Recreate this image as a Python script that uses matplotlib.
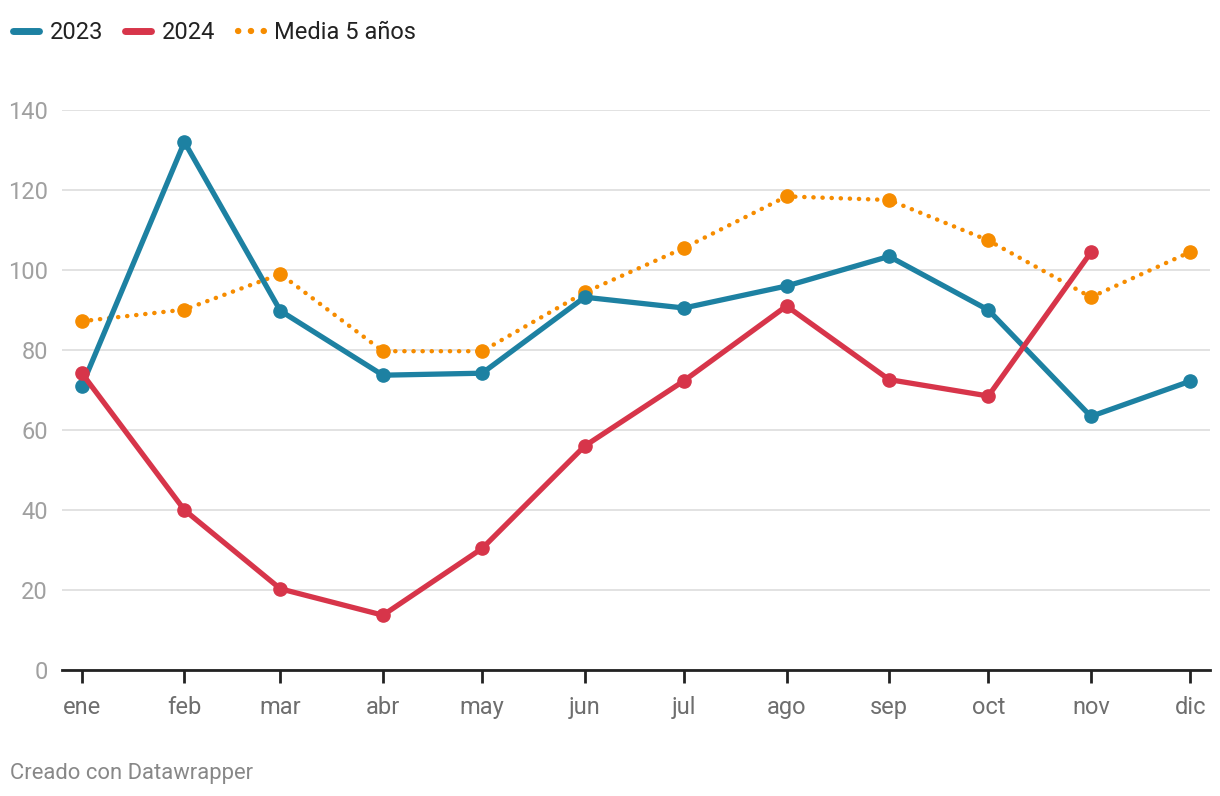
import matplotlib.pyplot as plt
from matplotlib.lines import Line2D

plt.rcParams['font.family'] = ['Roboto', 'DejaVu Sans']

meses = ['ene', 'feb', 'mar', 'abr', 'may', 'jun', 'jul', 'ago', 'sep', 'oct', 'nov', 'dic']
# day of year (leap year) of the first of each month
dia = [0, 31, 60, 91, 121, 152, 182, 213, 244, 274, 305, 335]

v2023 = [71, 132, 89.8, 73.7, 74.2, 93.2, 90.5, 96, 103.4, 90, 63.4, 72.2]
v2024 = [74.2, 40, 20.3, 13.7, 30.4, 56, 72.3, 91, 72.6, 68.5, 104.4]
media = [87.2, 90.1, 99, 79.7, 79.7, 94.4, 105.5, 118.4, 117.5, 107.4, 93.2, 104.5]

c23 = '#1d81a2'
c24 = '#d7354a'
cmed = '#f68c00'

fig = plt.figure(figsize=(12.2, 7.96), dpi=100)
ax = fig.add_axes([62 / 1220, 1 - 670 / 796, 1148 / 1220, 560 / 796])

ax.plot(dia, media, color=cmed, lw=3.2, linestyle=(0, (0.05, 2.0)),
        dash_capstyle='round', marker='o', markersize=9.5, clip_on=False, zorder=3)
ax.plot(dia, v2023, color=c23, lw=3.8, marker='o', markersize=9.5,
        solid_joinstyle='round', clip_on=False, zorder=4)
ax.plot(dia[:len(v2024)], v2024, color=c24, lw=3.8, marker='o', markersize=9.5,
        solid_joinstyle='round', clip_on=False, zorder=5)

ax.set_xlim(-6, 341)
ax.set_ylim(0, 140)
ax.set_yticks(range(0, 141, 20))
ax.set_xticks(dia)
ax.set_xticklabels(meses)
ax.grid(axis='y', color='#e2e2e2', lw=1.4)
ax.set_axisbelow(True)
for s in ['top', 'right', 'left']:
    ax.spines[s].set_visible(False)
ax.spines['bottom'].set_linewidth(2)
ax.spines['bottom'].set_color('#222222')
ax.spines['bottom'].set_zorder(6)
ax.tick_params(axis='y', length=0, pad=10, labelsize=17, labelcolor='#a0a0a0')
ax.tick_params(axis='x', length=9, width=2, color='#222222', pad=10,
               labelsize=17, labelcolor='#6e6e6e')

handles = [
    Line2D([], [], color=c23, lw=5, solid_capstyle='round'),
    Line2D([], [], color=c24, lw=5, solid_capstyle='round'),
    Line2D([], [], color=cmed, lw=4.5, linestyle=(0, (0.05, 2.0)), dash_capstyle='round'),
]
fig.legend(handles, ['2023', '2024', 'Media 5 años'], loc='upper left',
           bbox_to_anchor=(13 / 1220, 1 - 21 / 796), ncol=3, frameon=False, fontsize=17,
           handlelength=1.1, handletextpad=0.45, columnspacing=0.95,
           labelcolor='#222222', borderaxespad=0, borderpad=0)

fig.text(10 / 1220, 1 - 774 / 796, 'Creado con Datawrapper', fontsize=15.8,
         color='#888888', va='center', ha='left')

fig.savefig('out.png', dpi=100, facecolor='white')
